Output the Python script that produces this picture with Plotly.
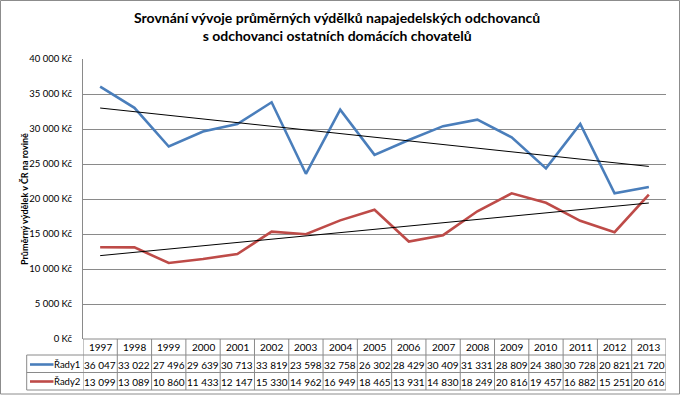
import plotly.graph_objects as go
import numpy as np

years = [1997, 1998, 1999, 2000, 2001, 2002, 2003, 2004, 2005, 2006, 2007, 2008, 2009, 2010, 2011, 2012, 2013]
rady1 = [36047, 33022, 27496, 29639, 30713, 33819, 23598, 32758, 26302, 28429, 30409, 31331, 28809, 24380, 30728, 20821, 21720]
rady2 = [13099, 13089, 10860, 11433, 12147, 15330, 14962, 16949, 18465, 13931, 14830, 18249, 20816, 19457, 16882, 15251, 20616]
series_names = ["Řady1", "Řady2"]
y_ticks = [0, 5000, 10000, 15000, 20000, 25000, 30000, 35000, 40000]

title_text = "Srovnání vývoje průměrných výdělků napajedelských odchovanců<br>s odchovanci ostatních domácích chovatelů"
y_title = "Průměrný výdělek v ČR na rovině"

def kc(v):
    return f"{v:,}".replace(",", " ") + " Kč"

def num(v):
    return f"{v:,}".replace(",", " ")

colors = ["#4A7EBB", "#BE4B48"]
grid = "#8a8a8a"
FONT = "Lato"

fig = go.Figure()
for name, vals, col in zip(series_names, [rady1, rady2], colors):
    fig.add_trace(go.Scatter(x=years, y=vals, mode="lines", name=name,
                             line=dict(color=col, width=2.6), showlegend=False))
# linear trendlines
for vals in [rady1, rady2]:
    k, q = np.polyfit(years, vals, 1)
    fig.add_trace(go.Scatter(x=[years[0], years[-1]], y=[k * years[0] + q, k * years[-1] + q],
                             mode="lines", line=dict(color="black", width=1), showlegend=False))

L, R, T, B = 83, 14, 59, 57
W, H = 680, 396
pw, ph = W - L - R, H - T - B

def px_x(x):
    return (x - L) / pw

def px_y(y):
    return (H - B - y) / ph

shapes = []
annotations = []
# outer border
shapes.append(dict(type="rect", xref="paper", yref="paper", x0=px_x(0.5), x1=px_x(679.5),
                   y0=px_y(394), y1=px_y(0.5), line=dict(color="#8c8c8c", width=1)))

row_edges = [339, 355, 372.5, 390]
row_centers = [347.5, 364.5, 381.5]
table_left = 26.7
lo, hi = years[0] - 0.5, years[-1] + 0.5
# horizontal table lines
shapes.append(dict(type="line", xref="x", yref="paper", x0=lo, x1=hi, y0=px_y(row_edges[0]), y1=px_y(row_edges[0]),
                   line=dict(color=grid, width=1)))
for yy in row_edges[1:]:
    shapes.append(dict(type="line", xref="paper", yref="paper", x0=px_x(table_left), x1=1,
                       y0=px_y(yy), y1=px_y(yy), line=dict(color=grid, width=1)))
# vertical table lines
for i in range(len(years) + 1):
    xv = years[0] - 0.5 + i
    shapes.append(dict(type="line", xref="x", yref="paper", x0=xv, x1=xv,
                       y0=px_y(row_edges[0]), y1=px_y(row_edges[-1]), line=dict(color=grid, width=1)))
shapes.append(dict(type="line", xref="paper", yref="paper", x0=px_x(table_left), x1=px_x(table_left),
                   y0=px_y(row_edges[1]), y1=px_y(row_edges[-1]), line=dict(color=grid, width=1)))

tf = dict(family=FONT, size=10, color="black")
for yr in years:
    annotations.append(dict(x=yr, y=px_y(row_centers[0]), xref="x", yref="paper", text=str(yr),
                            showarrow=False, font=tf, xanchor="center", yanchor="middle"))
for r, (name, vals, col) in enumerate(zip(series_names, [rady1, rady2], colors)):
    yc = px_y(row_centers[r + 1])
    for yr, v in zip(years, vals):
        annotations.append(dict(x=yr, y=yc, xref="x", yref="paper", text=num(v),
                                showarrow=False, font=tf, xanchor="center", yanchor="middle"))
    shapes.append(dict(type="line", xref="paper", yref="paper", x0=px_x(30), x1=px_x(53.5),
                       y0=yc, y1=yc, line=dict(color=col, width=2.6)))
    annotations.append(dict(x=px_x(82), y=yc, xref="paper", yref="paper", text=name,
                            showarrow=False, font=dict(family=FONT, size=9.5, color="black"),
                            xanchor="right", yanchor="middle"))

annotations.append(dict(x=px_x(337), y=px_y(27), xref="paper", yref="paper", text=title_text,
                        showarrow=False, font=dict(family=FONT, size=14, color="black", weight="bold"),
                        xanchor="center", yanchor="middle", align="center"))
annotations.append(dict(x=px_x(24), y=0.5, xref="paper", yref="paper", text=y_title, textangle=-90,
                        showarrow=False, font=dict(family=FONT, size=9, color="black", weight="bold"),
                        xanchor="center", yanchor="middle"))

fig.update_layout(
    width=W, height=H, margin=dict(l=L, r=R, t=T, b=B),
    paper_bgcolor="white", plot_bgcolor="white",
    shapes=shapes, annotations=annotations,
    xaxis=dict(range=[lo, hi], showgrid=False, showticklabels=False, ticks="", zeroline=False,
               showline=False),
    yaxis=dict(range=[0, 40000], tickvals=y_ticks, ticktext=[kc(v) for v in y_ticks],
               showgrid=True, gridcolor=grid, gridwidth=1, zeroline=False,
               showline=True, linecolor=grid, linewidth=1, ticks="", ticklen=0,
               ticklabelstandoff=8,
               tickfont=dict(family=FONT, size=9.5, color="black")),
)
fig.write_html("out.html", config={"displayModeBar": False},
               post_script="document.body.style.margin='0';document.body.style.overflow='hidden';")
